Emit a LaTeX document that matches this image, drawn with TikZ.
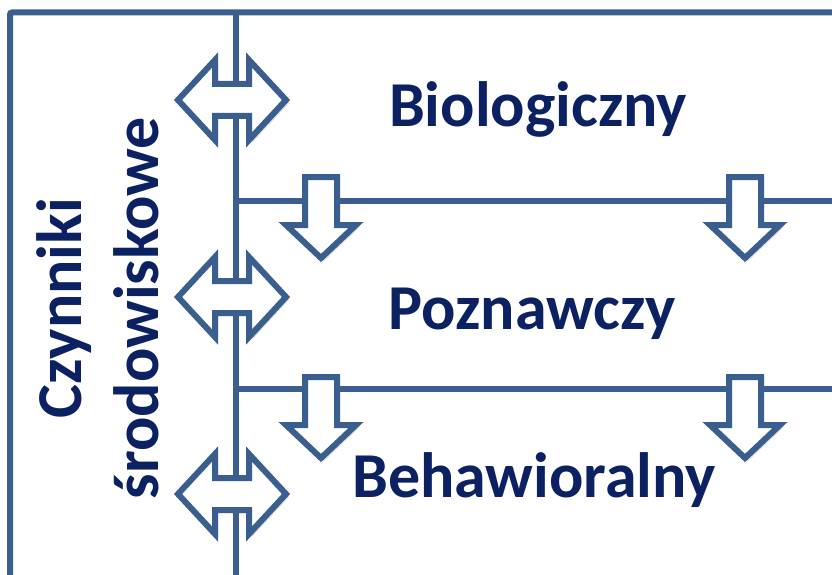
\documentclass[tikz,border=0pt]{standalone}
\usepackage{fontspec}
\setmainfont{Carlito}
\usetikzlibrary{shadows}
\definecolor{linecol}{HTML}{3A5F8E}
\definecolor{textcol}{HTML}{0B2161}

\begin{document}
\begin{tikzpicture}[
    x=1pt, y=-1pt,
    frame/.style={draw=linecol, line width=6pt},
    tier/.style={text=textcol, font=\fontsize{64}{77}\selectfont\bfseries, inner sep=0pt},
    arrowbox/.style={draw=linecol, fill=white, line width=6pt, line join=miter,
        drop shadow={opacity=0.25, shadow xshift=3pt, shadow yshift=-3pt}},
    dblarrow/.pic={\path[arrowbox] (-54,0) -- (-17,-40) -- (-17,-16) -- (17,-16) -- (17,-40)
        -- (54,0) -- (17,40) -- (17,16) -- (-17,16) -- (-17,40) -- cycle;},
    downarrow/.pic={\path[arrowbox] (-16,0) -- (16,0) -- (16,48) -- (35,48)
        -- (0,81) -- (-35,48) -- (-16,48) -- cycle;}
]

% Frame and dividers
\coordinate (corner) at (10,12.5);
\coordinate (spine) at (236,12.5);
\draw[frame, rounded corners=2pt] (10,575) -- (corner) -- (832,12.5);
\draw[frame] (spine) -- (236,575);
\draw[frame] (236,201) -- (832,201);
\draw[frame] (236,389) -- (832,389);

% Environment label
\node[tier, rotate=90, align=center] (env) at (98,308) {Czynniki\\środowiskowe};

% Levels
\node[tier, anchor=base] (bio) at (538,127) {Biologiczny};
\node[tier, anchor=base] (cog) at (532,329) {Poznawczy};
\node[tier, anchor=base] (beh) at (534,497) {Behawioralny};

% Interaction arrows
\pic at (232,100) {dblarrow};
\pic at (232,297) {dblarrow};
\pic at (232,494) {dblarrow};

% Influence arrows
\pic at (321,177) {downarrow};
\pic at (745,177) {downarrow};
\pic at (321,377) {downarrow};
\pic at (745,377) {downarrow};

\pgfresetboundingbox
\useasboundingbox (0,0) rectangle (832,575);
\end{tikzpicture}
\end{document}
